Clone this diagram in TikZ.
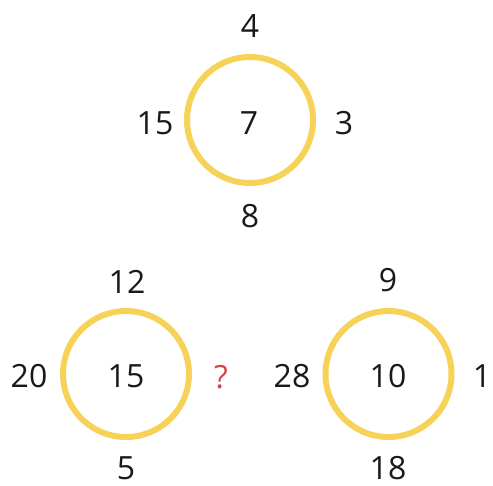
\documentclass[tikz,border=0pt]{standalone}
\usepackage{fontspec}
\setmainfont{Open Sans}
\definecolor{ringyellow}{HTML}{F6D258}
\definecolor{qred}{HTML}{D04552}
\begin{document}
\begin{tikzpicture}[x=1pt,y=-1pt,
  ring/.style={draw=ringyellow,line width=6pt,circle,minimum size=126pt,inner sep=0pt},
  num/.style={inner sep=0pt,font=\fontsize{32}{32}\selectfont,text=black!90}]
\useasboundingbox (0,0) rectangle (493,486);
% top
\node[ring] (c1) at (250,120) {};
\node[num] (c1c) at (249,123) {7};
\node[num] (c1t) at (250,26) {4};
\node[num] (c1l) at (155,123) {15};
\node[num] (c1r) at (344,123) {3};
\node[num] (c1b) at (250,216) {8};
% bottom left
\node[ring] (c2) at (126,374) {};
\node[num] (c2c) at (126,376) {15};
\node[num] (c2t) at (127,282) {12};
\node[num] (c2l) at (29,376) {20};
\node[num,text=qred] (c2r) at (221,377) {?};
\node[num] (c2b) at (126,468) {5};
% bottom right
\node[ring] (c3) at (388.5,374) {};
\node[num] (c3c) at (388,376) {10};
\node[num] (c3t) at (388,280) {9};
\node[num] (c3l) at (292,376) {28};
\node[num] (c3r) at (482,376) {1};
\node[num] (c3b) at (388,468) {18};
\end{tikzpicture}
\end{document}
